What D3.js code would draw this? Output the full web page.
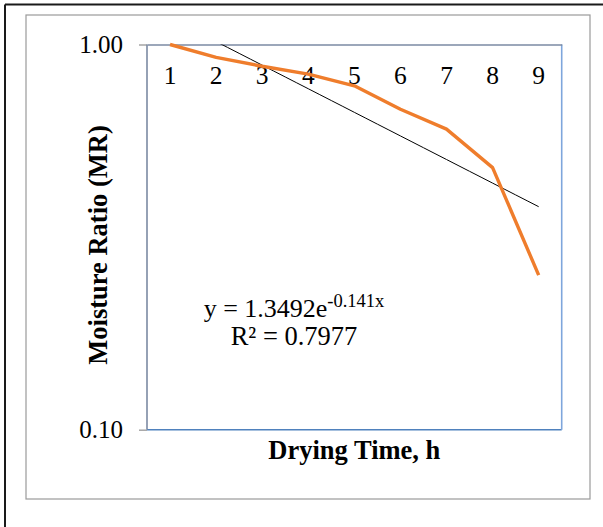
<!DOCTYPE html>
<html>
<head>
<meta charset="utf-8">
<script src="https://cdn.jsdelivr.net/npm/d3@7"></script>
<style>
  body { margin: 0; background: #fff; }
  svg { display: block; }
</style>
</head>
<body>
<svg id="chart" width="603" height="527"></svg>
<script>
// data
const hours = [1, 2, 3, 4, 5, 6, 7, 8, 9]
const moistureRatio = [1.0, 0.926, 0.878, 0.838, 0.781, 0.679, 0.603, 0.479, 0.252]
const yTicks = [0.1, 1]
// exponential trendline shown in the chart: y = a * e^(b x)
const trendA = 1.3492
const trendB = -0.141

const margin = { top: 44.5, left: 147, right: 41.3, bottom: 97.3 }
const width = 603, height = 527
const innerW = width - margin.left - margin.right
const innerH = height - margin.top - margin.bottom
const serif = '"Liberation Serif", "Times New Roman", serif'

const svg = d3.select('#chart')

// outer frame (black on left and top) and chart area border
svg.append('line').attr('x1', 5).attr('y1', 4.5).attr('x2', width).attr('y2', 4.5)
  .attr('stroke', '#1a1a1a').attr('stroke-width', 2)
svg.append('line').attr('x1', 5).attr('y1', 4.5).attr('x2', 5).attr('y2', height)
  .attr('stroke', '#1a1a1a').attr('stroke-width', 2)
svg.append('rect').attr('x', 26).attr('y', 15).attr('width', 564).attr('height', 484)
  .attr('fill', 'none').attr('stroke', '#9a9a9a').attr('stroke-width', 1.2)

const g = svg.append('g').attr('transform', `translate(${margin.left},${margin.top})`)

const x = d3.scaleBand().domain(hours).range([0, innerW])
const y = d3.scaleLog().domain([0.1, 1]).range([innerH, 0])
const xc = (v) => x(v) + x.bandwidth() / 2
// continuous x for the trendline between categories
const xLin = d3.scaleLinear().domain([0.5, 9.5]).range([0, innerW])

g.append('clipPath').attr('id', 'plotClip')
  .append('rect').attr('width', innerW).attr('height', innerH)

// plot area border: bottom and right blue
g.append('line').attr('x1', 0).attr('x2', innerW).attr('y1', innerH).attr('y2', innerH)
  .attr('stroke', '#4f81bd').attr('stroke-width', 1.6)
g.append('line').attr('x1', innerW).attr('x2', innerW).attr('y1', 0).attr('y2', innerH)
  .attr('stroke', '#7ea6dc').attr('stroke-width', 1.6)

// y axis (log)
const yAxis = d3.axisLeft(y).tickValues(yTicks).tickFormat(d3.format('.2f'))
  .tickSize(8).tickPadding(16)
const yG = g.append('g').call(yAxis)
yG.select('.domain').remove()
yG.selectAll('.tick line').attr('stroke', '#a6a6a6').attr('stroke-width', 1.5)
yG.selectAll('.tick text')
  .attr('font-family', serif)
  .attr('font-size', 25).attr('fill', '#000')
g.append('line').attr('x1', 0).attr('x2', 0).attr('y1', 0).attr('y2', innerH)
  .attr('stroke', '#7b8aa3').attr('stroke-width', 1.6)

// x axis sits at the top (crosses at 1.0)
const xAxis = d3.axisBottom(x).tickSize(0).tickPadding(21.5)
const xG = g.append('g').call(xAxis)
xG.select('.domain').attr('stroke', '#7b8aa3').attr('stroke-width', 1.6)
xG.selectAll('.tick text')
  .attr('font-family', serif)
  .attr('font-size', 25.5).attr('fill', '#000')

// trendline
const trendPts = d3.range(1, 9.01, 0.25).map((t) => [t, trendA * Math.exp(trendB * t)])
g.append('path')
  .datum(trendPts)
  .attr('clip-path', 'url(#plotClip)')
  .attr('fill', 'none')
  .attr('stroke', '#000')
  .attr('stroke-width', 1)
  .attr('d', d3.line().x((d) => xLin(d[0])).y((d) => y(d[1])))

// data series
g.append('path')
  .datum(hours.map((h, i) => ({ h, v: moistureRatio[i] })))
  .attr('fill', 'none')
  .attr('stroke', '#ef7d2c')
  .attr('stroke-width', 3.4)
  .attr('stroke-linejoin', 'round')
  .attr('d', d3.line().x((d) => xc(d.h)).y((d) => y(d.v)))

// equation label
const eq = svg.append('text')
  .attr('font-family', serif)
  .attr('font-size', 26).attr('fill', '#000')
  .attr('text-anchor', 'middle')
  .attr('x', 294).attr('y', 317)
eq.append('tspan').text('y = 1.3492e')
eq.append('tspan').attr('font-size', 18.5).attr('dy', -10).text('-0.141x')
svg.append('text')
  .attr('font-family', serif)
  .attr('font-size', 26.5).attr('fill', '#000')
  .attr('text-anchor', 'middle')
  .attr('x', 294).attr('y', 345)
  .text('R² = 0.7977')

// axis titles
svg.append('text')
  .attr('font-family', serif)
  .attr('font-weight', 'bold').attr('font-size', 26.5)
  .attr('text-anchor', 'middle')
  .attr('x', margin.left + innerW / 2).attr('y', 458.5)
  .text('Drying Time, h')
svg.append('text')
  .attr('font-family', serif)
  .attr('font-weight', 'bold').attr('font-size', 26.5)
  .attr('text-anchor', 'middle')
  .attr('transform', 'translate(107,245) rotate(-90)')
  .text('Moisture Ratio (MR)')
</script>
</body>
</html>
